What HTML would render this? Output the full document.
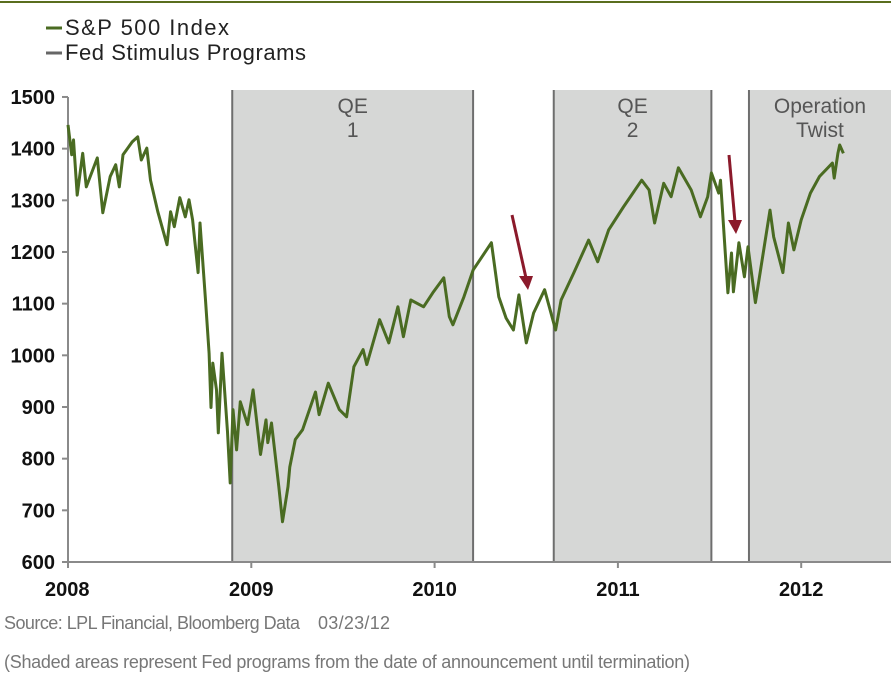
<!DOCTYPE html>
<html><head><meta charset="utf-8"><style>
body{margin:0;background:#fff;}
svg{display:block;font-family:"Liberation Sans Narrow","Liberation Sans",sans-serif;}
</style></head><body>
<svg id="chart" width="891" height="675">
<line x1="0" y1="2" x2="891" y2="2" stroke="#5a6e1e" stroke-width="2"/>
<g>
<line x1="46" y1="28" x2="62" y2="28" stroke="#4a6b22" stroke-width="3"/>
<text x="65" y="35" font-size="22" fill="#222" textLength="164">S&amp;P 500 Index</text>
<line x1="46" y1="53" x2="62" y2="53" stroke="#666" stroke-width="3"/>
<text x="65" y="60" font-size="22" fill="#222" textLength="241">Fed Stimulus Programs</text>
</g>
<g id="shades"></g>
<g id="axes"></g>
<g id="series"></g>
<g>
<line x1="512" y1="215" x2="526" y2="278" stroke="#8b1a2b" stroke-width="3"/>
<polygon points="519,276 533,276 528,290" fill="#8b1a2b"/>
<line x1="729" y1="155" x2="735" y2="222" stroke="#8b1a2b" stroke-width="3"/>
<polygon points="728,220 742,220 736,234" fill="#8b1a2b"/>
</g>
<text x="4" y="629" font-size="18" fill="#777" textLength="296">Source: LPL Financial, Bloomberg Data</text>
<text x="318" y="629" font-size="18" fill="#777" textLength="72">03/23/12</text>
<text x="4" y="668" font-size="18" fill="#777" textLength="686">(Shaded areas represent Fed programs from the date of announcement until termination)</text>
</svg>
<script>
const yTicks=[600,700,800,900,1000,1100,1200,1300,1400,1500];
const xTicks=[2008,2009,2010,2011,2012];
const programNames=["QE|1","QE|2","Operation|Twist"];
const programStart=[2008.896,2010.65,2011.715];
const programEnd=[2010.21,2011.51,2012.77];
const dates=[2008.00,2008.02,2008.03,2008.05,2008.08,2008.10,2008.16,2008.19,2008.23,2008.26,2008.28,2008.30,2008.35,2008.38,2008.40,2008.43,2008.45,2008.49,2008.54,2008.56,2008.58,2008.61,2008.64,2008.66,2008.68,2008.71,2008.72,2008.75,2008.77,2008.78,2008.79,2008.81,2008.82,2008.84,2008.87,2008.885,2008.90,2008.92,2008.94,2008.98,2009.01,2009.05,2009.08,2009.09,2009.11,2009.15,2009.17,2009.20,2009.21,2009.24,2009.28,2009.35,2009.37,2009.42,2009.48,2009.52,2009.56,2009.61,2009.63,2009.70,2009.75,2009.80,2009.83,2009.87,2009.94,2009.99,2010.05,2010.08,2010.10,2010.16,2010.21,2010.31,2010.35,2010.39,2010.43,2010.46,2010.50,2010.54,2010.60,2010.66,2010.69,2010.76,2010.84,2010.89,2010.95,2011.03,2011.13,2011.17,2011.20,2011.25,2011.29,2011.33,2011.40,2011.45,2011.49,2011.51,2011.55,2011.56,2011.60,2011.62,2011.63,2011.66,2011.69,2011.71,2011.75,2011.83,2011.85,2011.90,2011.93,2011.96,2012.00,2012.05,2012.10,2012.17,2012.18,2012.20,2012.21,2012.23];
const values=[1446,1388,1417,1310,1391,1326,1382,1276,1346,1369,1326,1388,1413,1423,1378,1401,1339,1278,1214,1278,1249,1305,1268,1301,1262,1160,1256,1107,1004,899,985,933,850,1004,852,753,895,817,910,866,933,808,875,831,869,746,678,746,784,837,856,929,885,946,895,881,978,1011,982,1069,1024,1094,1036,1107,1094,1121,1150,1075,1059,1113,1165,1218,1113,1072,1049,1117,1024,1082,1127,1049,1107,1160,1223,1181,1243,1287,1339,1320,1256,1333,1307,1363,1320,1268,1307,1353,1314,1339,1121,1198,1123,1218,1152,1210,1102,1281,1229,1160,1256,1204,1262,1314,1346,1372,1343,1391,1407,1391];
const NS="http://www.w3.org/2000/svg";
const X0=68,XS=183.3,Y0=562,YS=0.5167;
function xs(t){return X0+(t-2008)*XS;}
function ys(v){return Y0-(v-600)*YS;}
const shades=document.getElementById('shades');
programStart.forEach((s,i)=>{
 const x1=xs(s),x2=Math.min(xs(programEnd[i]),891);
 const r=document.createElementNS(NS,'rect');
 r.setAttribute('x',x1);r.setAttribute('y',90);r.setAttribute('width',x2-x1);r.setAttribute('height',Y0-90);r.setAttribute('fill','#d6d7d6');
 
 
 shades.appendChild(r);
 [x1,x2].forEach(x=>{if(x>=890)return;
  const l=document.createElementNS(NS,'line');
  l.setAttribute('x1',x);l.setAttribute('x2',x);l.setAttribute('y1',90);l.setAttribute('y2',Y0);l.setAttribute('stroke','#6e6e6e');l.setAttribute('stroke-width','2');
  
  
  shades.appendChild(l);});
 programNames[i].split('|').forEach((w,j)=>{
  const t=document.createElementNS(NS,'text');
  t.setAttribute('x',(x1+x2)/2);t.setAttribute('y',113+j*24);t.setAttribute('text-anchor','middle');t.setAttribute('font-size','21');t.setAttribute('fill','#555');
  t.textContent=w;
  
  
  shades.appendChild(t);});
});
const axes=document.getElementById('axes');
function ln(x1,y1,x2,y2,name){const l=document.createElementNS(NS,'line');l.setAttribute('x1',x1);l.setAttribute('y1',y1);l.setAttribute('x2',x2);l.setAttribute('y2',y2);l.setAttribute('stroke','#8a8a8a');l.setAttribute('stroke-width','2');
 
 
 axes.appendChild(l);}
ln(X0,97,X0,Y0,'y-axis');ln(X0-6,Y0,891,Y0,'x-axis');
yTicks.forEach(v=>{ln(X0-6,ys(v),X0,ys(v),'y-tick');
 const t=document.createElementNS(NS,'text');t.setAttribute('x',55);t.setAttribute('y',ys(v)+7);t.setAttribute('text-anchor','end');t.setAttribute('font-size','20');t.setAttribute('font-weight','bold');t.setAttribute('fill','#111');t.textContent=v;
 
 
 axes.appendChild(t);});
xTicks.forEach(v=>{const x=xs(v);ln(x,Y0,x,Y0+6,'x-tick');
 const t=document.createElementNS(NS,'text');t.setAttribute('y',Y0+34);t.setAttribute('text-anchor',v===2008?'start':'middle');t.setAttribute('font-size','20');t.setAttribute('font-weight','bold');t.setAttribute('fill','#111');t.textContent=v;
 t.setAttribute('x',v===2008?45:x);
 
 
 axes.appendChild(t);});
const p=document.createElementNS(NS,'path');
p.setAttribute('d',dates.map((d,i)=>(i?'L':'M')+xs(d).toFixed(1)+','+ys(values[i]).toFixed(1)).join(''));
p.setAttribute('fill','none');p.setAttribute('stroke','#4a6b22');p.setAttribute('stroke-width','3');p.setAttribute('stroke-linejoin','round');


document.getElementById('series').appendChild(p);
</script>
</body></html>
